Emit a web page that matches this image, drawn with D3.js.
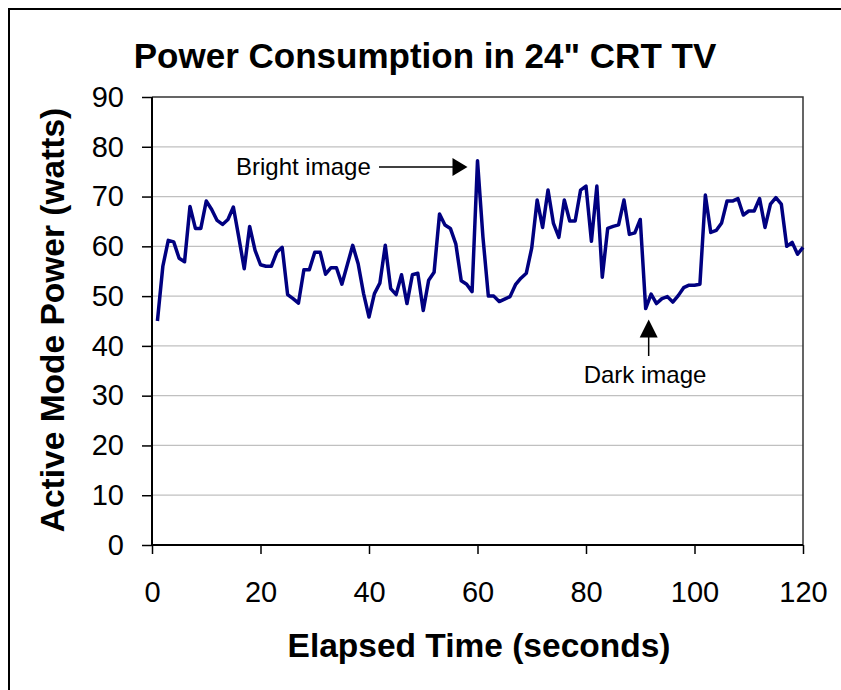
<!DOCTYPE html>
<html>
<head>
<meta charset="utf-8">
<script src="https://cdn.jsdelivr.net/npm/d3@7"></script>
<style>
  html, body { margin: 0; padding: 0; background: #fff; }
  svg { display: block; font-family: "Liberation Sans", Arial, Helvetica, sans-serif; }
</style>
</head>
<body>
<svg id="chart" width="841" height="690"></svg>
<script>
// ---- data ----
const seconds = d3.range(1, 121);
const watts = [
  45, 56, 61.2, 60.9, 57.6, 56.9, 68, 63.6, 63.6, 69.1,
  67.4, 65.2, 64.4, 65.4, 67.9, 61.8, 55.5, 64, 59.2, 56.3,
  56, 56, 58.8, 59.8, 50.3, 49.5, 48.6, 55.3, 55.3, 58.8,
  58.8, 54.4, 55.7, 55.7, 52.4, 56.3, 60.2, 56.5, 50.5, 45.8,
  50.5, 52.6, 60.2, 51.5, 50.3, 54.3, 48.5, 54.3, 54.6, 47.1,
  53.2, 54.8, 66.5, 64.3, 63.6, 60.5, 53.1, 52.4, 50.9, 77.2,
  61.9, 50, 50, 48.9, 49.4, 49.9, 52.3, 53.6, 54.6, 59.7,
  69.3, 63.8, 71.3, 64.6, 61.8, 69.3, 65.1, 65.1, 71.3, 72.1,
  61, 72.1, 53.8, 63.6, 64, 64.3, 69.3, 62.4, 62.7, 65.4,
  47.5, 50.4, 48.5, 49.5, 49.9, 48.8, 50.1, 51.7, 52.2, 52.2,
  52.4, 70.3, 62.8, 63.2, 64.7, 69.1, 69.1, 69.6, 66.3, 67.1,
  67.1, 69.6, 63.8, 68.5, 69.8, 68.5, 60, 60.8, 58.4, 59.8
];
const xTicks = [0, 20, 40, 60, 80, 100, 120];
const yTicks = [0, 10, 20, 30, 40, 50, 60, 70, 80, 90];
const titleText = 'Power Consumption in 24" CRT TV';
const xTitle = "Elapsed Time (seconds)";
const yTitle = "Active Mode Power (watts)";
const notes = [
  { label: "Bright image", t: 60, v: 77.2 },
  { label: "Dark image", t: 91, v: 47.5 }
];

// ---- layout ----
const svg = d3.select("#chart");
const L = 152, R = 803, T = 97, B = 545;
const x = d3.scaleLinear().domain([0, 120]).range([L, R]);
const y = d3.scaleLinear().domain([0, 90]).range([B, T]);

// outer border (extends past right/bottom edges like the reference)
svg.append("path")
  .attr("d", "M9,700 L9,9 L850,9")
  .attr("fill", "none").attr("stroke", "#000").attr("stroke-width", 2);

// gridlines
svg.append("g").selectAll("line").data(yTicks.filter(d => d > 0 && d < 90)).join("line")
  .attr("x1", L).attr("x2", R)
  .attr("y1", d => y(d)).attr("y2", d => y(d))
  .attr("stroke", "#c0c0c0").attr("stroke-width", 1.3);

// plot frame top/right
svg.append("path")
  .attr("d", `M${L},${y(90)} L${R},${y(90)} L${R},${B}`)
  .attr("fill", "none").attr("stroke", "#333").attr("stroke-width", 1.5);

// axes
const yAxis = d3.axisLeft(y).tickValues(yTicks).tickSize(10).tickPadding(18).tickFormat(d3.format("d"));
const gy = svg.append("g").attr("transform", `translate(${L},0)`).call(yAxis);
const xAxis = d3.axisBottom(x).tickValues(xTicks).tickSize(9).tickPadding(27).tickFormat(d3.format("d"));
const gx = svg.append("g").attr("transform", `translate(0,${B})`).call(xAxis);
[gx, gy].forEach(g => {
  g.select(".domain").attr("stroke", "#000").attr("stroke-width", 2);
  g.selectAll(".tick line").attr("stroke", "#000").attr("stroke-width", 1.5);
  g.selectAll(".tick text").attr("font-size", 29).attr("fill", "#000")
    .attr("font-family", '"Liberation Sans", Arial, sans-serif');
});
gx.select(".domain").attr("d", `M${L},0H${R}`);
gy.select(".domain").attr("d", `M0,${B}V${T}`);

// line
const line = d3.line().x((d, i) => x(seconds[i])).y(d => y(d));
svg.append("path").datum(watts)
  .attr("d", line)
  .attr("fill", "none").attr("stroke", "#000080")
  .attr("stroke-width", 3.5).attr("stroke-linejoin", "round");

// titles
svg.append("text").attr("x", 425).attr("y", 68).attr("text-anchor", "middle")
  .attr("font-size", 35).attr("font-weight", "bold").text(titleText);
svg.append("text").attr("x", 479).attr("y", 657).attr("text-anchor", "middle")
  .attr("font-size", 33.5).attr("font-weight", "bold").text(xTitle);
svg.append("text").attr("transform", "translate(64,320) rotate(-90)").attr("text-anchor", "middle")
  .attr("font-size", 33.5).attr("font-weight", "bold").text(yTitle);

// annotations
const bright = notes[0];
const bx = x(bright.t) - 10, by = 167;
svg.append("text").attr("x", 236).attr("y", by + 8).attr("font-size", 24).text(bright.label);
svg.append("line").attr("x1", 379).attr("x2", bx - 12).attr("y1", by).attr("y2", by)
  .attr("stroke", "#000").attr("stroke-width", 1.5);
svg.append("path").attr("d", `M${bx},${by} L${bx - 15},${by - 9} L${bx - 15},${by + 9} Z`).attr("fill", "#000");

const dark = notes[1];
const dx = x(dark.t) + 3, dy = y(dark.v) + 11;
svg.append("path").attr("d", `M${dx},${dy} L${dx - 9},${dy + 18} L${dx + 9},${dy + 18} Z`).attr("fill", "#000");
svg.append("line").attr("x1", dx).attr("x2", dx).attr("y1", dy + 15).attr("y2", 356)
  .attr("stroke", "#000").attr("stroke-width", 1.5);
svg.append("text").attr("x", 645).attr("y", 383).attr("text-anchor", "middle")
  .attr("font-size", 24).text(dark.label);
</script>
</body>
</html>
